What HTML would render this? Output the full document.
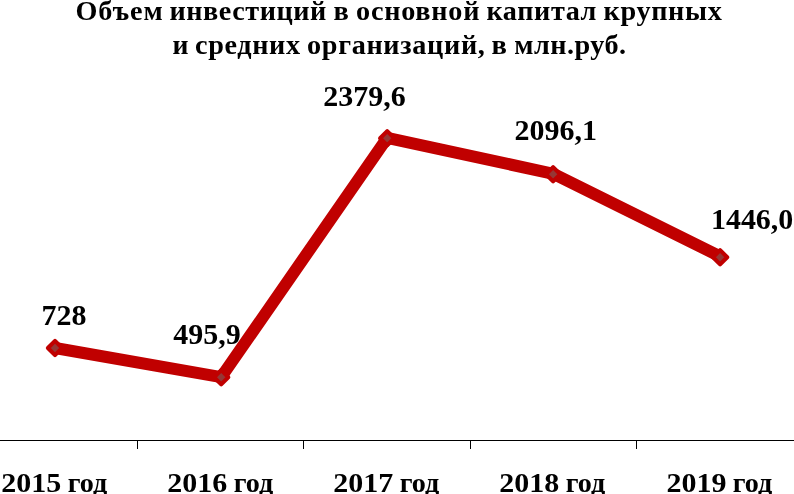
<!DOCTYPE html>
<html lang="ru">
<head>
<meta charset="utf-8">
<title>Объем инвестиций в основной капитал</title>
<style>
html,body{margin:0;padding:0;background:#fff;}
body{width:794px;height:494px;overflow:hidden;}
svg{display:block;will-change:transform;}
text{font-family:"Liberation Serif",serif;font-weight:bold;fill:#000;}
</style>
</head>
<body>
<svg width="794" height="494" viewBox="0 0 794 494">
<rect width="794" height="494" fill="#ffffff"/>
<!-- category axis -->
<g stroke="#000" stroke-width="1" shape-rendering="crispEdges" fill="none">
<line x1="0" y1="440.5" x2="794" y2="440.5"/>
<line x1="137.5" y1="441" x2="137.5" y2="449"/>
<line x1="303.5" y1="441" x2="303.5" y2="449"/>
<line x1="470.5" y1="441" x2="470.5" y2="449"/>
<line x1="636.5" y1="441" x2="636.5" y2="449"/>
</g>
<!-- series line -->
<polyline points="55,348 221.2,377.2 387.2,137.95 553.5,173.8 720.5,256.6" fill="none" stroke="#C00000" stroke-width="12" stroke-linejoin="round" stroke-linecap="round"/>
<!-- markers -->
<g fill="#953735" stroke="#C00000" stroke-width="4.1" stroke-linejoin="round">
<path d="M55 340.90 L62.10 348 L55 355.10 L47.90 348 Z"/>
<path d="M221.2 370.15 L228.30 377.25 L221.2 384.35 L214.10 377.25 Z"/>
<path d="M387.2 131.10 L394.30 138.2 L387.2 145.30 L380.10 138.2 Z"/>
<path d="M553.1 167.15 L560.20 174.25 L553.1 181.35 L546.00 174.25 Z"/>
<path d="M720.1 250.15 L727.20 257.25 L720.1 264.35 L713.00 257.25 Z"/>
</g>
<!-- texts: title, data labels, category labels -->
<text font-size="27.4" letter-spacing="0.913" transform="translate(75.48 20) scale(1.0300 1)">Объем</text>
<text font-size="27.4" letter-spacing="0.524" transform="translate(169.46 20) scale(1.0300 1)">инвестиций</text>
<text font-size="27.4" transform="translate(333.46 20) scale(1.0365 1)">в</text>
<text font-size="27.4" letter-spacing="0.733" transform="translate(356.02 20) scale(1.0300 1)">основной</text>
<text font-size="27.4" letter-spacing="0.574" transform="translate(486.46 20) scale(1.0300 1)">капитал</text>
<text font-size="27.4" letter-spacing="0.660" transform="translate(603.46 20) scale(1.0300 1)">крупных</text>
<text font-size="27.4" transform="translate(172.47 54) scale(1.0111 1)">и</text>
<text font-size="27.4" letter-spacing="0.606" transform="translate(195.02 54) scale(1.0300 1)">средних</text>
<text font-size="27.4" letter-spacing="0.655" transform="translate(307.02 54) scale(1.0300 1)">организаций,</text>
<text font-size="27.4" transform="translate(491.45 54) scale(1.0401 1)">в</text>
<text font-size="27.4" letter-spacing="0.433" transform="translate(514.36 54) scale(1.0300 1)">млн.руб.</text>
<text font-size="28.9" transform="translate(41.44 325.0) scale(1.0381 1)">728</text>
<text font-size="28.9" transform="translate(173.32 343.9) scale(1.0381 1)">495,9</text>
<text font-size="28.9" transform="translate(323.17 105.8) scale(1.0381 1)">2379,6</text>
<text font-size="28.9" transform="translate(514.48 139.9) scale(1.0381 1)">2096,1</text>
<text font-size="28.9" transform="translate(710.90 229.0) scale(1.0381 1)">1446,0</text>
<text font-size="27.8" transform="translate(1.20 491.6) scale(1.0791 1)">2015</text>
<text font-size="27.2" transform="translate(67.66 491.6) scale(1.0354 1)">год</text>
<text font-size="27.8" transform="translate(167.37 491.6) scale(1.0791 1)">2016</text>
<text font-size="27.2" transform="translate(233.66 491.6) scale(1.0354 1)">год</text>
<text font-size="27.8" transform="translate(333.29 491.6) scale(1.0791 1)">2017</text>
<text font-size="27.2" transform="translate(399.66 491.6) scale(1.0354 1)">год</text>
<text font-size="27.8" transform="translate(499.30 491.6) scale(1.0791 1)">2018</text>
<text font-size="27.2" transform="translate(565.66 491.6) scale(1.0354 1)">год</text>
<text font-size="27.8" transform="translate(666.62 491.6) scale(1.0791 1)">2019</text>
<text font-size="27.2" transform="translate(732.66 491.6) scale(1.0354 1)">год</text>
</svg>
</body>
</html>
